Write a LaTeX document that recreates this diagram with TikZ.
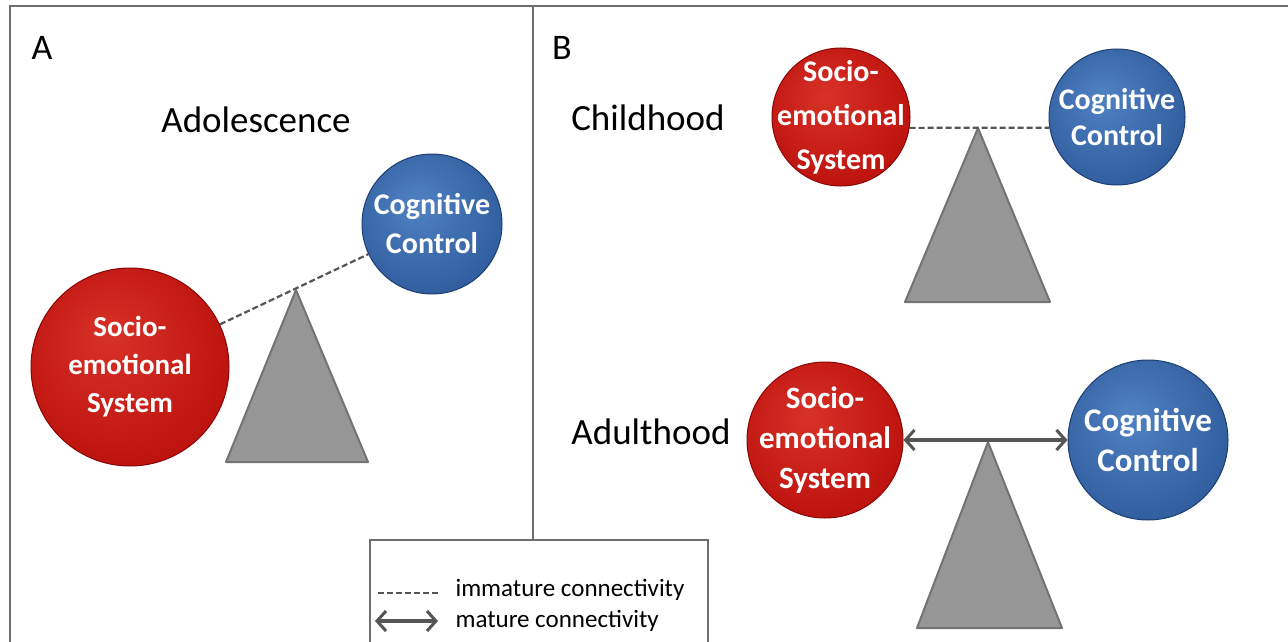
\documentclass[tikz,border=0pt]{standalone}
\usepackage{fontspec}
\setmainfont{Carlito}
\usetikzlibrary{arrows.meta}
\definecolor{rcA}{RGB}{215,50,40}
\definecolor{rcB}{RGB}{190,20,15}
\definecolor{rcC}{RGB}{140,5,5}
\definecolor{bcA}{RGB}{80,130,195}
\definecolor{bcB}{RGB}{50,95,160}
\definecolor{bcC}{RGB}{30,62,115}
\definecolor{framegray}{RGB}{110,110,110}
\definecolor{trifill}{RGB}{150,150,150}
\definecolor{tridraw}{RGB}{115,115,115}
\definecolor{linegray}{RGB}{85,85,85}
\pgfdeclareradialshading{redball}{\pgfpoint{-6bp}{8bp}}{color(0bp)=(rcA); color(28bp)=(rcB); color(50bp)=(rcC)}
\pgfdeclareradialshading{blueball}{\pgfpoint{-6bp}{8bp}}{color(0bp)=(bcA); color(28bp)=(bcB); color(50bp)=(bcC)}
\begin{document}
\begin{tikzpicture}[x=1pt,y=-1pt,
  redc/.style={circle, shading=redball, draw=rcC, line width=1pt, text=white, align=center, inner sep=-40pt},
  bluec/.style={circle, shading=blueball, draw=bcC, line width=1pt, text=white, align=center, inner sep=-40pt},
  stagelabel/.style={font=\fontsize{37}{40}\selectfont, text=black},
  panellabel/.style={font=\fontsize{36}{40}\selectfont, text=black},
  fulcrum/.style={fill=trifill, draw=tridraw, line width=2pt, line join=round},
  immature/.style={dashed, dash pattern=on 6pt off 3pt, draw=linegray, line width=2.2pt},
  mature/.style={draw=linegray, line width=3.5pt, {Straight Barb[length=9pt,width=20pt,line width=3pt]}-{Straight Barb[length=9pt,width=20pt,line width=3pt]}},
  frameline/.style={draw=framegray, line width=2.5pt},
  legendtext/.style={font=\fontsize{25}{28}\selectfont, anchor=west, text=black}
]
\useasboundingbox (0,0) rectangle (1288,642);
% frame
\draw[frameline] (10,642) -- (10,6) -- (1288,6);
\draw[frameline] (533,6) -- (533,540);
\draw[draw=framegray, line width=2pt] (370,642) -- (370,540) -- (708,540) -- (708,642);

% panel labels
\node[panellabel] (labA) at (42,48) {A};
\node[panellabel] (labB) at (562,48) {B};
\node[stagelabel] (adol) at (256,120) {Adolescence};
\node[stagelabel] (child) at (648,118) {Childhood};
\node[stagelabel] (adult) at (651,432) {Adulthood};

% Panel A
\node[redc, minimum size=198pt, font=\bfseries\fontsize{29}{38}\selectfont] (sesA) at (130,367) {Socio-\\emotional\\System};
\node[bluec, minimum size=140pt, font=\bfseries\fontsize{30}{39}\selectfont] (ccA) at (432,224) {Cognitive\\Control};
\coordinate (apexA) at (296,290);
\draw[fulcrum] (apexA) -- (368,462) -- (226,462) -- cycle;
\draw[immature] (sesA) -- (ccA);

% Childhood
\node[redc, minimum size=138pt, font=\bfseries\fontsize{30}{44}\selectfont] (sesC) at (841,117) {Socio-\\emotional\\System};
\node[bluec, minimum size=136pt, font=\bfseries\fontsize{30}{36}\selectfont] (ccC) at (1117,117) {Cognitive\\Control};
\coordinate (apexC) at (978,128);
\draw[fulcrum] (apexC) -- (1050,302) -- (905,302) -- cycle;
\draw[immature] (sesC.-9) -- (ccC.189);

% Adulthood
\node[redc, minimum size=156pt, font=\bfseries\fontsize{31}{40}\selectfont] (sesD) at (825,440) {Socio-\\emotional\\System};
\node[bluec, minimum size=160pt, font=\bfseries\fontsize{33}{40}\selectfont] (ccD) at (1148,440) {Cognitive\\Control};
\coordinate (apexD) at (988,442);
\draw[fulcrum] (apexD) -- (1062,628) -- (917,628) -- cycle;
\draw[mature] (sesD.east) -- (ccD.west);

% legend
\coordinate (l1a) at (378,593);
\coordinate (l1b) at (440,593);
\coordinate (l2a) at (375,621);
\coordinate (l2b) at (438,621);
\draw[immature] (l1a) -- (l1b);
\draw[mature] (l2a) -- (l2b);
\node[legendtext] (leg1) at (452,590) {immature connectivity};
\node[legendtext] (leg2) at (452,621) {mature connectivity};
\end{tikzpicture}
\end{document}
